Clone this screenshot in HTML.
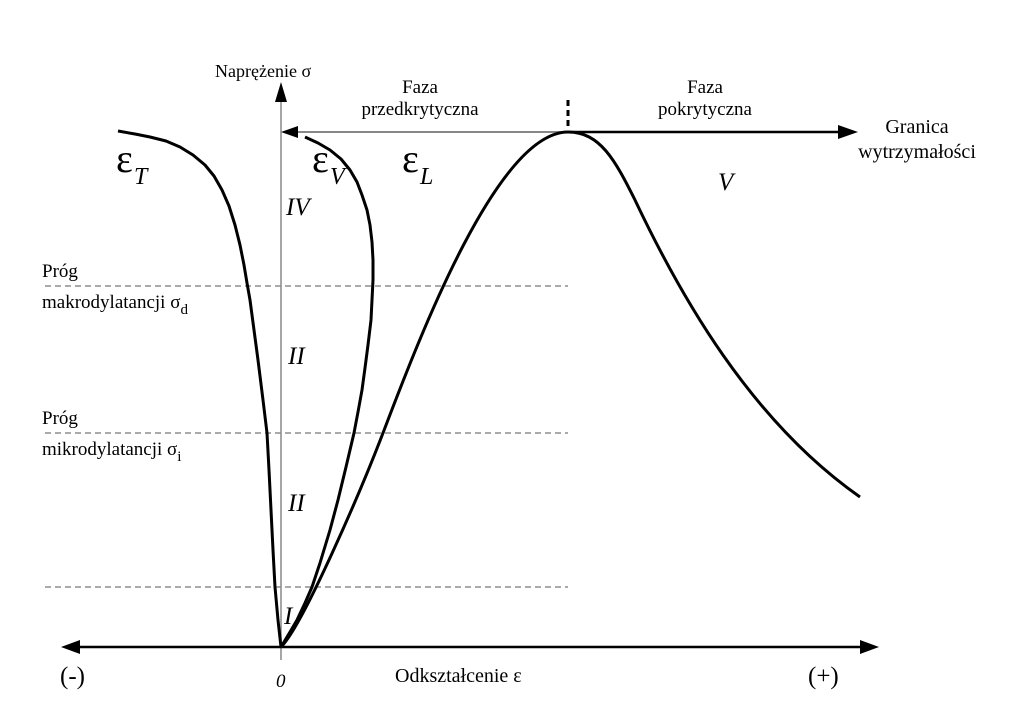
<!DOCTYPE html>
<html><head><meta charset="utf-8"><style>body{margin:0;background:#fff}svg{display:block}text{font-family:"Liberation Serif",serif;fill:#000}</style></head><body>
<svg width="1024" height="727" viewBox="0 0 1024 727">
<g stroke="#777" stroke-width="1.2" stroke-dasharray="6,4" fill="none">
<line x1="45" y1="286" x2="568" y2="286"/><line x1="45" y1="433" x2="568" y2="433"/><line x1="45" y1="587" x2="568" y2="587"/>
</g>
<line x1="281" y1="660" x2="281" y2="95" stroke="#888" stroke-width="1.5"/>
<polygon points="281,82 275,102 287,102" fill="#000"/>
<line x1="295" y1="132" x2="568" y2="132" stroke="#888" stroke-width="2"/>
<polygon points="281,132 298,126 298,138" fill="#000"/>
<line x1="568" y1="132" x2="843" y2="132" stroke="#000" stroke-width="2.5"/>
<polygon points="858,132 838,125 838,139" fill="#000"/>
<line x1="568" y1="100" x2="568" y2="130" stroke="#000" stroke-width="3" stroke-dasharray="6,4"/>
<line x1="75" y1="647" x2="865" y2="647" stroke="#000" stroke-width="2.5"/>
<polygon points="61,647 80,640 80,654" fill="#000"/>
<polygon points="879,647 860,640 860,654" fill="#000"/>
<g stroke="#000" stroke-width="3" fill="none" stroke-linejoin="round">
<polyline points="118,131 135,134 150,137 166,141 180,147 193,155 205,165 214,176 222,190 229,206 235,225 240,245 244,265 247,283 250,300 254,330 258,360 263,400 267,433 269,470 271,510 273,550 275,587 278,620 281,647"/>
<polyline points="281,647 290,632 297,620 305,603 312,587 320,563 330,530 338,500 346,467 354,433 358,412 362,390 365,368 368,345 371,320 372,300 373,280 373,260 372,242 370,225 367,210 362,195 357,182 350,170 341,159 330,150 318,143 305,137"/>
<path d="M281,647 C303,625 360,493 383,433 C421,333 498,132 568,132 C600,132 615,160 635,200 C680,295 750,420 860,497"/>
</g>
<text x="215" y="77" font-size="18">Naprężenie σ</text>
<text x="420" y="93" font-size="19" text-anchor="middle">Faza</text>
<text x="420" y="115" font-size="19" text-anchor="middle">przedkrytyczna</text>
<text x="705" y="93" font-size="19" text-anchor="middle">Faza</text>
<text x="705" y="115" font-size="19" text-anchor="middle">pokrytyczna</text>
<text x="917" y="133" font-size="20" text-anchor="middle">Granica</text>
<text x="917" y="158" font-size="20" text-anchor="middle">wytrzymałości</text>
<text x="116" y="172" font-size="40">ε</text><text x="134" y="184" font-size="24" font-style="italic">T</text>
<text x="312" y="172" font-size="40">ε</text><text x="330" y="184" font-size="24" font-style="italic">V</text>
<text x="402" y="172" font-size="40">ε</text><text x="420" y="184" font-size="24" font-style="italic">L</text>
<text x="718" y="190" font-size="25" font-style="italic">V</text>
<text x="286" y="215" font-size="25" font-style="italic">IV</text>
<text x="288" y="364" font-size="25" font-style="italic">II</text>
<text x="288" y="511" font-size="25" font-style="italic">II</text>
<text x="284" y="624" font-size="25" font-style="italic">I</text>
<text x="42" y="277" font-size="19">Próg</text>
<text x="42" y="308" font-size="19">makrodylatancji σ<tspan font-size="15" dy="6">d</tspan></text>
<text x="42" y="424" font-size="19">Próg</text>
<text x="42" y="455" font-size="19">mikrodylatancji σ<tspan font-size="15" dy="6">i</tspan></text>
<text x="60" y="684" font-size="25">(-)</text>
<text x="276" y="687" font-size="19" font-style="italic">0</text>
<text x="395" y="682" font-size="20">Odkształcenie ε</text>
<text x="808" y="684" font-size="25">(+)</text>
</svg>
</body></html>
